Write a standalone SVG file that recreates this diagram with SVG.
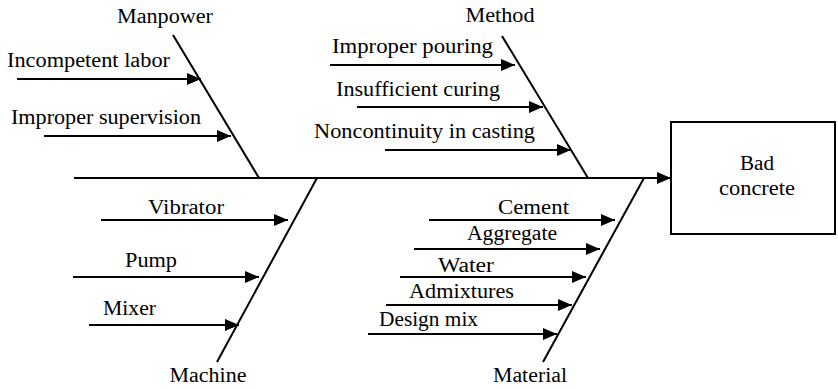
<svg xmlns="http://www.w3.org/2000/svg" width="838" height="389" viewBox="0 0 838 389">
  <style>
    .bone { stroke: #000; stroke-width: 2; fill: none; }
    .cause { stroke: #000; stroke-width: 2.2; fill: none; marker-end: url(#head); }
    .spine { stroke: #000; stroke-width: 2; fill: none; marker-end: url(#head); }
    .box { stroke: #000; stroke-width: 2; fill: #fff; }
    text { font-family: "Liberation Serif", "Times New Roman", serif; font-size: 20px; fill: #000; }
    .mid { text-anchor: middle; }
  </style>
  <defs>
    <marker id="head" markerWidth="14" markerHeight="12" refX="14" refY="6" orient="auto" markerUnits="userSpaceOnUse">
      <path d="M0,0 L14,6 L0,12 Z" fill="#000"/>
    </marker>
  </defs>

  <rect width="838" height="389" fill="#fff"/>

  <!-- connectors: spine, category bones and cause arrows -->
  <g id="connectors">
    <line class="spine" x1="74" y1="178" x2="671" y2="178"/>
    <line class="bone" x1="173" y1="35" x2="259" y2="178"/>
    <line class="bone" x1="502" y1="36" x2="588" y2="178"/>
    <line class="bone" x1="317" y1="178" x2="217" y2="362"/>
    <line class="bone" x1="644" y1="178" x2="543" y2="362"/>

    <line class="cause" x1="17" y1="79" x2="201" y2="79"/>
    <line class="cause" x1="44" y1="136" x2="231" y2="136"/>

    <line class="cause" x1="330" y1="65" x2="515" y2="65"/>
    <line class="cause" x1="357" y1="107" x2="543" y2="107"/>
    <line class="cause" x1="385" y1="150" x2="571" y2="150"/>

    <line class="cause" x1="101" y1="220" x2="288" y2="220"/>
    <line class="cause" x1="73" y1="277" x2="259" y2="277"/>
    <line class="cause" x1="89" y1="325" x2="239" y2="325"/>

    <line class="cause" x1="429" y1="220" x2="615" y2="220"/>
    <line class="cause" x1="414" y1="249" x2="600" y2="249"/>
    <line class="cause" x1="400" y1="277" x2="586" y2="277"/>
    <line class="cause" x1="386" y1="305" x2="572" y2="305"/>
    <line class="cause" x1="368" y1="334" x2="557" y2="334"/>
  </g>

  <g id="effect">
    <rect class="box" x="671" y="122" width="164" height="112"/>
    <text class="mid" x="757" y="170" textLength="34" lengthAdjust="spacingAndGlyphs">Bad</text>
    <text class="mid" x="757" y="195" textLength="76" lengthAdjust="spacingAndGlyphs">concrete</text>
  </g>

  <g id="manpower">
    <text class="mid" x="165" y="23" textLength="96" lengthAdjust="spacingAndGlyphs">Manpower</text>
    <text x="7" y="67" textLength="163" lengthAdjust="spacingAndGlyphs">Incompetent labor</text>
    <text x="11" y="124" textLength="190" lengthAdjust="spacingAndGlyphs">Improper supervision</text>
  </g>

  <g id="method">
    <text class="mid" x="500" y="22" textLength="69" lengthAdjust="spacingAndGlyphs">Method</text>
    <text x="332" y="53" textLength="161" lengthAdjust="spacingAndGlyphs">Improper pouring</text>
    <text x="336" y="96" textLength="164" lengthAdjust="spacingAndGlyphs">Insufficient curing</text>
    <text x="314" y="138" textLength="221" lengthAdjust="spacingAndGlyphs">Noncontinuity in casting</text>
  </g>

  <g id="machine">
    <text class="mid" x="208" y="382" textLength="77" lengthAdjust="spacingAndGlyphs">Machine</text>
    <text x="148" y="214" textLength="76" lengthAdjust="spacingAndGlyphs">Vibrator</text>
    <text x="125" y="267" textLength="52" lengthAdjust="spacingAndGlyphs">Pump</text>
    <text x="103" y="315" textLength="53" lengthAdjust="spacingAndGlyphs">Mixer</text>
  </g>

  <g id="material">
    <text class="mid" x="530" y="382" textLength="74" lengthAdjust="spacingAndGlyphs">Material</text>
    <text x="498" y="214" textLength="71" lengthAdjust="spacingAndGlyphs">Cement</text>
    <text x="467" y="240" textLength="90" lengthAdjust="spacingAndGlyphs">Aggregate</text>
    <text x="438" y="272" textLength="56" lengthAdjust="spacingAndGlyphs">Water</text>
    <text x="409" y="298" textLength="105" lengthAdjust="spacingAndGlyphs">Admixtures</text>
    <text x="379" y="326" textLength="99" lengthAdjust="spacingAndGlyphs">Design mix</text>
  </g>
</svg>
